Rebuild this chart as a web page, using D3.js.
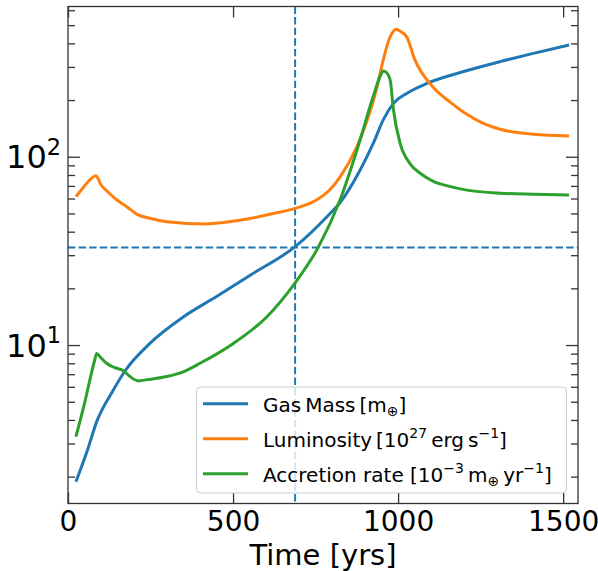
<!DOCTYPE html>
<html>
<head>
<meta charset="utf-8">
<script src="https://cdn.jsdelivr.net/npm/d3@7"></script>
<style>
  body { margin: 0; background: #fff; }
  svg { font-family: "DejaVu Sans", sans-serif; }
</style>
</head>
<body>
<svg id="chart" width="598" height="571"></svg>
<script>
// values
var massT = [24, 57, 87, 137, 173, 248, 349, 450, 552, 688, 794, 824, 885, 925, 955, 986, 1026, 1087, 1188, 1309, 1410, 1518];
var massV = [1.88, 2.7, 3.92, 5.75, 7.3, 10.2, 14.1, 18.1, 23.5, 33.3, 50, 57, 85, 118, 157, 192, 217, 245, 280, 320, 354, 392];

var lumT = [24, 50, 70, 84, 100, 125, 148, 178, 208, 248, 299, 420, 471, 552, 612, 688, 750, 794, 824, 875, 905, 935, 955, 975, 985, 994, 1005, 1026, 1050, 1107, 1158, 1208, 1260, 1309, 1410, 1518];
var lumV = [61.4, 70, 76.5, 79.3, 71, 64, 58.9, 54.3, 49.6, 47.1, 45.2, 44, 44.8, 47, 49.5, 53.2, 58.5, 67, 78, 113, 154, 230, 327, 430, 462, 475, 465, 434, 330, 233, 195, 168, 150, 140, 131.5, 129];

var accT = [24, 50, 80, 87, 97, 117, 140, 168, 188, 213, 240, 299, 349, 400, 501, 602, 688, 758, 824, 875, 925, 945, 955, 965, 976, 986, 1006, 1036, 1070, 1107, 1150, 1208, 1309, 1410, 1518];
var accV = [3.26, 4.9, 8.2, 9.03, 8.67, 8.0, 7.6, 7.3, 6.8, 6.45, 6.55, 6.8, 7.2, 8.0, 10.2, 14.1, 21.4, 33, 58.9, 108, 210, 266, 285, 280, 255, 177, 118, 92, 81, 74, 70, 66.5, 64, 63.2, 62.7];

var markT = 688;     // vertical dashed line
var markV = 33;      // horizontal dashed line

var xTicks = [0, 500, 1000, 1500];
var yMajor = [10, 100];
var yMinor = [2, 3, 4, 5, 6, 7, 8, 9, 20, 30, 40, 50, 60, 70, 80, 90, 200, 300, 400, 500, 600];

var svg = d3.select("#chart");
var mLeft = 68, mRight = 578, mTop = 6.5, mBottom = 503.5;

var xs = d3.scaleLinear().domain([0, 1545]).range([mLeft, mRight]);
var ys = d3.scaleLog().domain([1.44, 628]).range([mBottom, mTop]);

var tickColor = "#333";
var thin = "\u2009";

// sets text made of plain, superscript and subscript parts
function richText(sel, parts, size) {
    var shift = 0;
    parts.forEach(function (p) {
        var target = p[1] == "sup" ? -0.42 * size : (p[1] == "sub" ? 0.2 * size : 0);
        sel.append("tspan")
            .attr("dy", target - shift)
            .attr("font-size", p[1] ? size * 0.7 : size)
            .text(p[0]);
        shift = target;
    });
}

// clip for the curves
svg.append("clipPath").attr("id", "plotclip")
    .append("rect")
    .attr("x", mLeft).attr("y", mTop)
    .attr("width", mRight - mLeft).attr("height", mBottom - mTop);

var plot = svg.append("g").attr("clip-path", "url(#plotclip)");

var line = d3.line()
    .x(function (d) { return xs(d[0]); })
    .y(function (d) { return ys(d[1]); })
    .curve(d3.curveMonotoneX);

// dashed marker lines
plot.append("line")
    .attr("x1", xs(markT)).attr("x2", xs(markT))
    .attr("y1", mTop).attr("y2", mBottom)
    .attr("stroke", "#1f77b4").attr("stroke-width", 2)
    .attr("stroke-dasharray", "7.4,3.2");
plot.append("line")
    .attr("x1", mLeft).attr("x2", mRight)
    .attr("y1", ys(markV)).attr("y2", ys(markV))
    .attr("stroke", "#1f77b4").attr("stroke-width", 2)
    .attr("stroke-dasharray", "7.4,3.2");

var series = [
    { t: massT, v: massV, color: "#1f77b4" },
    { t: lumT, v: lumV, color: "#ff7f0e" },
    { t: accT, v: accV, color: "#2ca02c" }
];

series.forEach(function (s) {
    plot.append("path")
        .datum(d3.zip(s.t, s.v))
        .attr("fill", "none")
        .attr("stroke", s.color)
        .attr("stroke-width", 3)
        .attr("stroke-linejoin", "round")
        .attr("stroke-linecap", "butt")
        .attr("d", line);
});

// axes, ticks pointing inward
function styleAxis(g) {
    g.select(".domain").remove();
    g.selectAll(".tick line").attr("stroke", tickColor).attr("stroke-width", 1.3);
}

svg.append("g")
    .attr("transform", `translate(0,${mBottom})`)
    .call(d3.axisBottom(xs).tickValues(xTicks).tickSize(-11).tickPadding(8).tickFormat(d3.format("d")))
    .call(styleAxis)
    .selectAll("text")
    .attr("font-size", 28).attr("fill", "#000")
    .attr("font-family", "DejaVu Sans");

svg.append("g")
    .attr("transform", `translate(0,${mTop})`)
    .call(d3.axisTop(xs).tickValues(xTicks).tickSize(-11).tickFormat(""))
    .call(styleAxis);

[[d3.axisLeft, mLeft], [d3.axisRight, mRight]].forEach(function (a) {
    svg.append("g")
        .attr("transform", `translate(${a[1]},0)`)
        .call(a[0](ys).tickValues(yMajor).tickSize(-12).tickFormat(""))
        .call(styleAxis);
    svg.append("g")
        .attr("transform", `translate(${a[1]},0)`)
        .call(a[0](ys).tickValues(yMinor).tickSize(-7).tickFormat(""))
        .call(styleAxis);
});

// y labels 10^n
yMajor.forEach(function (v) {
    var t = svg.append("text")
        .attr("x", mLeft - 7)
        .attr("y", ys(v) + 11.5)
        .attr("text-anchor", "end")
        .attr("fill", "#000");
    richText(t, [["10"], [String(Math.round(Math.log10(v))), "sup"]], 32);
});

// frame
svg.append("rect")
    .attr("x", mLeft).attr("y", mTop)
    .attr("width", mRight - mLeft).attr("height", mBottom - mTop)
    .attr("fill", "none").attr("stroke", tickColor).attr("stroke-width", 1.3);

svg.append("text")
    .attr("x", (mLeft + mRight) / 2)
    .attr("y", 565)
    .attr("text-anchor", "middle")
    .attr("font-size", 29)
    .text("Time [yrs]");

// legend
var legend = svg.append("g");
legend.append("rect")
    .attr("x", 196.5).attr("y", 387)
    .attr("width", 370).attr("height", 106)
    .attr("rx", 4)
    .attr("fill", "#fff").attr("fill-opacity", 0.8)
    .attr("stroke", "#ccc").attr("stroke-width", 1);

var legendText = [
    [["Gas" + thin + "Mass" + thin + "[m"], ["⊕", "sub"], ["]"]],
    [["Luminosity" + thin + "[10"], ["27", "sup"], [thin + "erg" + thin + "s"], ["−1", "sup"], ["]"]],
    [["Accretion rate [10"], ["−3", "sup"], [thin + "m"], ["⊕", "sub"], [thin + "yr"], ["−1", "sup"], ["]"]]
];

series.forEach(function (s, i) {
    var cy = 403.7 + i * 35;
    legend.append("line")
        .attr("x1", 203).attr("x2", 248)
        .attr("y1", cy).attr("y2", cy)
        .attr("stroke", s.color).attr("stroke-width", 3);
    var t = legend.append("text")
        .attr("x", 263).attr("y", cy + 8)
        .attr("fill", "#000");
    richText(t, legendText[i], 20);
});
</script>
</body>
</html>
